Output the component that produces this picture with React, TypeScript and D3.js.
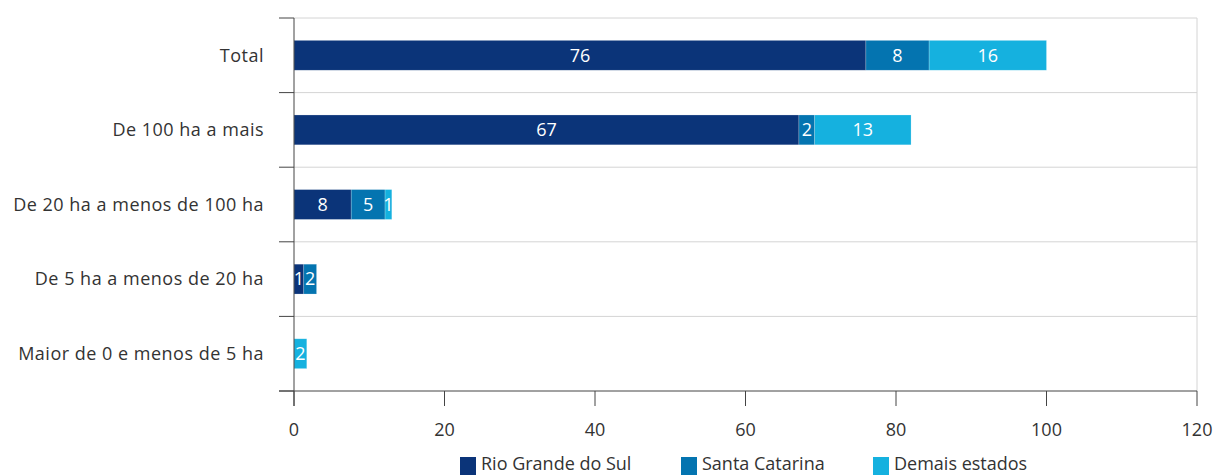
import React from "react";
import * as d3 from "d3";

const categories = [
  "Total",
  "De 100 ha a mais",
  "De 20 ha a menos de 100 ha",
  "De 5 ha a menos de 20 ha",
  "Maior de 0 e menos de 5 ha",
];
const seriesNames = ["Rio Grande do Sul", "Santa Catarina", "Demais estados"];
const rioGrandeDoSul = [76.0, 67.1, 7.6, 1.3, 0];
const santaCatarina = [8.4, 2.1, 4.5, 1.7, 0];
const demaisEstados = [15.6, 12.8, 0.9, 0, 1.7];
const xTicks = [0, 20, 40, 60, 80, 100, 120];
const colors = ["#0b3479", "#0474b0", "#15b1df"];

const W = 1213;
const H = 475;
const FONT = "'Open Sans', 'Noto Sans', sans-serif";

export default function App() {
  const left = 294;
  const right = 1197;
  const top = 18;
  const bottom = 391;

  const x = d3.scaleLinear().domain([0, 120]).range([left, right]);
  const rows = d3.scaleBand<string>().domain(categories).range([top, bottom]).padding(0);
  const y = d3
    .scaleBand<string>()
    .domain(categories)
    .range([top, bottom])
    .paddingInner(0.6)
    .paddingOuter(0.3);

  const table = categories.map((c, i) => ({
    cat: c,
    s0: rioGrandeDoSul[i],
    s1: santaCatarina[i],
    s2: demaisEstados[i],
  }));
  const stack = d3.stack<any>().keys(["s0", "s1", "s2"]);
  const series = stack(table);

  const boundaries = categories.map((c) => rows(c)!).concat([bottom]);

  return (
    <svg
      width={W}
      height={H}
      style={{ position: "absolute", left: 0, top: 0, background: "#fff" }}
      fontFamily={FONT}
    >
      {boundaries.map((b, i) =>
        i < boundaries.length - 1 ? (
          <line key={"g" + i} x1={left} x2={right} y1={b} y2={b} stroke="#d4d4d4" strokeWidth={1} />
        ) : null
      )}
      <line x1={right} x2={right} y1={top} y2={bottom} stroke="#d4d4d4" strokeWidth={1} />
      {boundaries.map((b, i) => (
        <line key={"lt" + i} x1={279} x2={left} y1={b} y2={b} stroke="#444" strokeWidth={1} />
      ))}
      {series.map((s, si) =>
        s.map((d, di) => {
          const w = x(d[1]) - x(d[0]);
          if (w <= 0) return null;
          const v = d[1] - d[0];
          return (
            <g key={si + "-" + di}>
              <rect
                x={x(d[0])}
                y={y(categories[di])!}
                width={w}
                height={y.bandwidth()}
                fill={colors[si]}
                stroke="rgba(255,255,255,0.35)"
                strokeWidth={0.6}
              />
              <text
                x={(x(d[0]) + x(d[1])) / 2}
                y={y(categories[di])! + y.bandwidth() / 2}
                dy="0.35em"
                textAnchor="middle"
                fill="#fff"
                fontSize={18}
              >
                {Math.round(v)}
              </text>
            </g>
          );
        })
      )}
      <line x1={left} x2={left} y1={top} y2={406} stroke="#444" strokeWidth={1} />
      <line x1={279} x2={right} y1={bottom} y2={bottom} stroke="#444" strokeWidth={1} />
      {xTicks.map((t) => (
        <g key={"xt" + t}>
          <line x1={x(t)} x2={x(t)} y1={bottom} y2={406} stroke="#444" strokeWidth={1} />
          <text x={x(t)} y={430} dy="0.35em" textAnchor="middle" fill="#333" fontSize={18}>
            {t}
          </text>
        </g>
      ))}
      {categories.map((c) => (
        <text
          key={c}
          x={264}
          y={y(c)! + y.bandwidth() / 2}
          dy="0.35em"
          textAnchor="end"
          fill="#333"
          fontSize={18}
          letterSpacing={0.5}
        >
          {c}
        </text>
      ))}
      {seriesNames.map((n, i) => {
        const lx = [460, 681, 873][i];
        return (
          <g key={n}>
            <rect x={lx} y={457} width={16} height={18} fill={colors[i]} />
            <text x={lx + 21} y={463.5} dy="0.35em" fill="#333" fontSize={18}>
              {n}
            </text>
          </g>
        );
      })}
    </svg>
  );
}
